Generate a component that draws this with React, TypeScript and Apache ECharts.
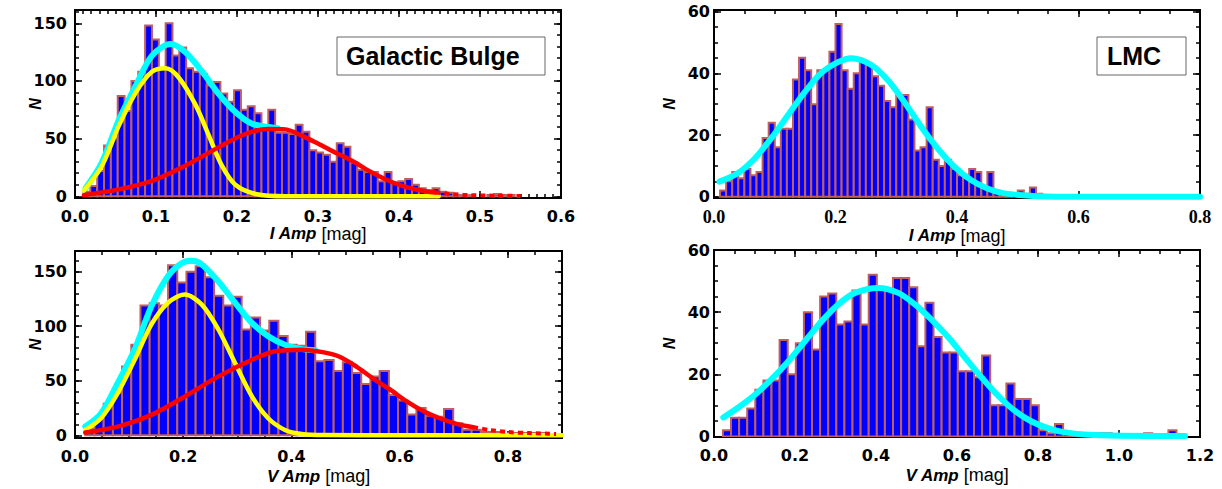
import React, { useEffect, useRef } from "react";
import * as echarts from "echarts";

type Pt = [number, number];

// ---------------- Galactic Bulge, I amplitude ----------------
const bulgeIBinStart = 0.0105;
const bulgeIBinWidth = 0.00845;
const bulgeICounts = [
  4, 9, 22, 44, 50, 87, 74, 100, 108, 148, 136, 111, 150, 122, 129, 111, 108, 106, 96, 99,
  89, 82, 92, 75, 78, 72, 61, 75, 55, 55, 54, 62, 56, 40, 38, 36, 30, 46, 43, 29,
  23, 21, 21, 13, 21, 12, 13, 15, 10, 7, 5, 7, 4, 3, 1, 1, 1, 0, 0, 1, 2, 1, 1,
];
const bulgeICyan: Pt[] = [
  [0.013, 7], [0.033, 29], [0.054, 66], [0.075, 96], [0.095, 122], [0.118, 132], [0.136, 125],
  [0.157, 108], [0.177, 89], [0.198, 73], [0.218, 63], [0.239, 60], [0.25, 59],
];
const bulgeIYellow: Pt[] = [
  [0.011, 5], [0.033, 26], [0.054, 61], [0.075, 90], [0.095, 108], [0.112, 111], [0.128, 103],
  [0.149, 79], [0.165, 53], [0.181, 27], [0.198, 10], [0.223, 2], [0.26, 0], [0.35, 0], [0.449, 0],
];
const bulgeIRed: Pt[] = [
  [0.011, 1], [0.054, 6], [0.095, 13.4], [0.136, 26.5], [0.177, 42.4], [0.21, 54], [0.239, 58.4],
  [0.26, 58], [0.28, 52.6], [0.301, 45.3], [0.321, 38], [0.342, 30.8], [0.363, 22], [0.383, 14.8],
  [0.404, 9], [0.424, 5.5], [0.445, 3.2],
];
const bulgeIRedTail: Pt[] = [[0.445, 3.2], [0.48, 1.2], [0.52, 0.5], [0.55, 0.3]];

// ---------------- LMC, I amplitude ----------------
const lmcIBinStart = 0.01;
const lmcIBinWidth = 0.01;
const lmcICounts = [
  2, 5, 8, 6, 9, 7, 8, 19, 24, 16, 22, 22, 38, 45, 41, 30, 41, 41, 47, 56,
  41, 35, 40, 44, 43, 39, 36, 31, 29, 33, 33, 25, 15, 16, 29, 12, 10, 12, 9, 7,
  6, 9, 8, 3, 8, 2, 1, 1, 0, 2, 1, 3, 1,
];
const lmcICyan: Pt[] = [
  [0.009, 4.9], [0.039, 7.6], [0.067, 12.4], [0.094, 18.9], [0.122, 26.5], [0.149, 33.8],
  [0.176, 40], [0.204, 43.6], [0.226, 44.9], [0.259, 42.7], [0.286, 37.8], [0.313, 30.8],
  [0.341, 22.7], [0.368, 15.7], [0.396, 9.7], [0.423, 5.4], [0.45, 2.7], [0.478, 1.1],
  [0.533, 0.2], [0.6, 0], [0.7, 0], [0.8, 0],
];

// ---------------- Galactic Bulge, V amplitude ----------------
const bulgeVBinStart = 0.019;
const bulgeVBinWidth = 0.017;
const bulgeVCounts = [
  6, 15, 29, 39, 63, 83, 119, 121, 119, 156, 140, 150, 155, 145, 128, 119, 127, 97, 108, 96,
  105, 91, 83, 82, 95, 68, 69, 59, 67, 57, 47, 54, 59, 37, 32, 19, 25, 18, 17, 24,
  11, 5, 5, 3, 3, 1, 2, 2, 2, 2, 0, 1,
];
const bulgeVCyan: Pt[] = [
  [0.019, 8], [0.048, 20], [0.079, 48], [0.11, 78.5], [0.141, 118], [0.172, 146], [0.197, 157.7],
  [0.215, 160], [0.234, 156.7], [0.265, 141], [0.296, 121.5], [0.327, 103], [0.357, 90.8],
  [0.388, 83], [0.419, 79], [0.444, 78],
];
const bulgeVYellow: Pt[] = [
  [0.019, 4.9], [0.048, 15.6], [0.079, 38.7], [0.11, 69], [0.141, 101.5], [0.172, 121.5],
  [0.203, 129], [0.234, 120], [0.265, 97], [0.296, 66], [0.327, 35.6], [0.357, 15.6],
  [0.388, 4.9], [0.419, 1.2], [0.46, 0.2], [0.6, 0], [0.9, 0],
];
const bulgeVRed: Pt[] = [
  [0.019, 2.5], [0.079, 8], [0.141, 18.7], [0.203, 35.6], [0.265, 54], [0.327, 69.3], [0.37, 77],
  [0.419, 78.5], [0.46, 76], [0.489, 72], [0.52, 63], [0.551, 52], [0.582, 42], [0.613, 31],
  [0.644, 22], [0.674, 15.6], [0.705, 10.5], [0.736, 7.4],
];
const bulgeVRedTail: Pt[] = [[0.736, 7.4], [0.767, 4.8], [0.8, 3], [0.84, 2], [0.889, 1.2]];

// ---------------- LMC, V amplitude ----------------
const lmcVBinStart = 0.022;
const lmcVBinWidth = 0.02;
const lmcVCounts = [
  2, 6, 6, 9, 15, 18, 18, 31, 20, 30, 40, 28, 45, 46, 36, 37, 47, 36, 52, 48,
  47, 51, 51, 48, 29, 43, 32, 27, 27, 21, 21, 19, 26, 10, 10, 17, 12, 12, 10, 2,
  1, 4, 1, 1, 0, 0, 1, 1, 0, 0, 0, 0, 1, 0, 0, 2,
];
const lmcVCyan: Pt[] = [
  [0.023, 6.1], [0.06, 9.3], [0.101, 13.4], [0.142, 18.4], [0.184, 24.3], [0.225, 30.7],
  [0.266, 37.1], [0.307, 42.5], [0.348, 46.2], [0.406, 47.8], [0.455, 46.2], [0.496, 42.5],
  [0.537, 37.6], [0.579, 31.8], [0.62, 25.3], [0.661, 18.9], [0.702, 13], [0.743, 8.2],
  [0.784, 4.8], [0.826, 2.6], [0.867, 1.3], [0.924, 0.5], [1.007, 0.2], [1.163, 0.1],
];

// ---------------- tick labels ----------------
const bulgeIXTicks = [0, 0.1, 0.2, 0.3, 0.4, 0.5, 0.6];
const lmcIXTicks = [0, 0.2, 0.4, 0.6, 0.8];
const bulgeVXTicks = [0, 0.2, 0.4, 0.6, 0.8];
const lmcVXTicks = [0, 0.2, 0.4, 0.6, 0.8, 1.0, 1.2];
const bulgeYTicks = [0, 50, 100, 150];
const lmcYTicks = [0, 20, 40, 60];

const range = (a: number, b: number, step: number) => {
  const out: number[] = [];
  for (let i = 0; a + i * step <= b + 1e-9; i++) out.push(Math.round((a + i * step) * 1e6) / 1e6);
  return out;
};

const CYAN = "#00ffff";
const YELLOW = "#ffff00";
const RED = "#ff0000";

const panels = [
  {
    grid: { left: 75, top: 10, width: 486, height: 188 },
    xMax: 0.6, xTicks: bulgeIXTicks, xMinor: 0.01, xDec: 1, xFont: "DejaVu Sans", xFontSize: 16,
    xName: "I Amp", xNameGap: 23,
    yMin: -1.5, yMax: 161.5, yTicks: bulgeYTicks, yMinor: 10, yLabelMargin: 8, yNameGap: 32,
    binStart: bulgeIBinStart, binWidth: bulgeIBinWidth, counts: bulgeICounts,
    curves: [
      { data: bulgeICyan, color: CYAN, width: 6, dash: false },
      { data: bulgeIYellow, color: YELLOW, width: 4.5, dash: false },
      { data: bulgeIRed, color: RED, width: 4.5, dash: false },
      { data: bulgeIRedTail, color: RED, width: 4, dash: true },
    ],
  },
  {
    grid: { left: 714, top: 10, width: 486, height: 188 },
    xMax: 0.8, xTicks: lmcIXTicks, xMinor: 0.05, xDec: 1, xFont: "Liberation Serif", xFontSize: 18,
    xName: "I Amp", xNameGap: 23,
    yMin: -0.4, yMax: 60.5, yTicks: lmcYTicks, yMinor: 5, yLabelMargin: 4, yNameGap: 37,
    binStart: lmcIBinStart, binWidth: lmcIBinWidth, counts: lmcICounts,
    curves: [{ data: lmcICyan, color: CYAN, width: 6, dash: false }],
  },
  {
    grid: { left: 75, top: 251, width: 487, height: 187 },
    xMax: 0.9, xTicks: bulgeVXTicks, xMinor: 0.05, xDec: 1, xFont: "DejaVu Sans", xFontSize: 16,
    xName: "V Amp", xNameGap: 29,
    yMin: -2.5, yMax: 169, yTicks: bulgeYTicks, yMinor: 10, yLabelMargin: 8, yNameGap: 32,
    binStart: bulgeVBinStart, binWidth: bulgeVBinWidth, counts: bulgeVCounts,
    curves: [
      { data: bulgeVCyan, color: CYAN, width: 6, dash: false },
      { data: bulgeVYellow, color: YELLOW, width: 4.5, dash: false },
      { data: bulgeVRed, color: RED, width: 4.5, dash: false },
      { data: bulgeVRedTail, color: RED, width: 4, dash: true },
    ],
  },
  {
    grid: { left: 714, top: 250, width: 486, height: 187 },
    xMax: 1.2, xTicks: lmcVXTicks, xMinor: 0.05, xDec: 1, xFont: "DejaVu Sans", xFontSize: 16,
    xName: "V Amp", xNameGap: 29,
    yMin: -0.2, yMax: 60, yTicks: lmcYTicks, yMinor: 5, yLabelMargin: 4, yNameGap: 37,
    binStart: lmcVBinStart, binWidth: lmcVBinWidth, counts: lmcVCounts,
    curves: [{ data: lmcVCyan, color: CYAN, width: 6, dash: false }],
  },
];

function buildOption() {
  const grids: any[] = [];
  const xAxes: any[] = [];
  const yAxes: any[] = [];
  const series: any[] = [];
  const tickLine = { color: "#000", width: 1.5 };
  const axisLine = { show: true, onZero: false, lineStyle: { color: "#000", width: 2 } };

  panels.forEach((p, gi) => {
    grids.push({ ...p.grid, containLabel: false });
    const xb = { type: "value", gridIndex: gi, min: 0, max: p.xMax, splitLine: { show: false }, axisLine, silent: true };
    const xMinorVals = range(0, p.xMax, p.xMinor);
    const xIndex = xAxes.length;
    xAxes.push({
      ...xb,
      position: "bottom",
      axisTick: { show: true, inside: true, length: 7, customValues: p.xTicks, lineStyle: tickLine },
      axisLabel: {
        show: true, customValues: p.xTicks, margin: 10,
        formatter: (v: number) => v.toFixed(p.xDec),
        fontFamily: p.xFont, fontWeight: "bold", fontSize: p.xFontSize, color: "#000",
      },
      name: `{i|${p.xName}} {m|[mag]}`,
      nameLocation: "middle",
      nameGap: p.xNameGap,
      nameTextStyle: {
        fontFamily: "Liberation Sans", fontSize: 17, color: "#000",
        rich: {
          i: { fontFamily: "Liberation Sans", fontStyle: "italic", fontWeight: "bold", fontSize: 17, color: "#000" },
          m: { fontFamily: "Liberation Sans", fontWeight: "normal", fontSize: 18, color: "#000" },
        },
      },
    });
    xAxes.push({ ...xb, position: "bottom", axisTick: { show: true, inside: true, length: 4, customValues: xMinorVals, lineStyle: tickLine }, axisLabel: { show: false } });
    xAxes.push({ ...xb, position: "top", axisTick: { show: true, inside: true, length: 7, customValues: p.xTicks, lineStyle: tickLine }, axisLabel: { show: false } });
    xAxes.push({ ...xb, position: "top", axisTick: { show: true, inside: true, length: 4, customValues: xMinorVals, lineStyle: tickLine }, axisLabel: { show: false } });

    const yb = { type: "value", gridIndex: gi, min: p.yMin, max: p.yMax, splitLine: { show: false }, axisLine, silent: true };
    const yMinorVals = range(0, p.yMax, p.yMinor);
    const yIndex = yAxes.length;
    yAxes.push({
      ...yb,
      position: "left",
      axisTick: { show: true, inside: true, length: 7, customValues: p.yTicks, lineStyle: tickLine },
      axisLabel: {
        show: true, customValues: p.yTicks, margin: p.yLabelMargin,
        formatter: (v: number) => String(Math.round(v)),
        fontFamily: "DejaVu Sans", fontWeight: "bold", fontSize: 16, color: "#000",
      },
      name: "N",
      nameLocation: "middle",
      nameRotate: 90,
      nameGap: p.yNameGap,
      nameMoveOverlap: false,
      nameTextStyle: { fontFamily: "Liberation Sans", fontStyle: "italic", fontWeight: "bold", fontSize: 16, color: "#000" },
    });
    yAxes.push({ ...yb, position: "left", axisTick: { show: true, inside: true, length: 4, customValues: yMinorVals, lineStyle: tickLine }, axisLabel: { show: false } });
    yAxes.push({ ...yb, position: "right", axisTick: { show: true, inside: true, length: 7, customValues: p.yTicks, lineStyle: tickLine }, axisLabel: { show: false } });
    yAxes.push({ ...yb, position: "right", axisTick: { show: true, inside: true, length: 4, customValues: yMinorVals, lineStyle: tickLine }, axisLabel: { show: false } });

    const bins = p.counts.map((c, i) => [p.binStart + i * p.binWidth, p.binStart + (i + 1) * p.binWidth, c]);
    series.push({
      type: "custom",
      xAxisIndex: xIndex,
      yAxisIndex: yIndex,
      clip: true,
      z: 1,
      silent: true,
      data: bins,
      renderItem: (_params: any, api: any) => {
        const v = api.value(2);
        if (!v) return null;
        const a = api.coord([api.value(0), v]);
        const b = api.coord([api.value(1), 0]);
        return {
          type: "rect",
          shape: { x: a[0], y: a[1], width: b[0] - a[0], height: b[1] - a[1] },
          style: { fill: "#0000ff", stroke: "#bf5f5f", lineWidth: 2 },
        };
      },
    });
    p.curves.forEach((c, ci) => {
      series.push({
        type: "line",
        xAxisIndex: xIndex,
        yAxisIndex: yIndex,
        data: c.data,
        smooth: 0.3,
        showSymbol: false,
        symbol: "none",
        clip: true,
        silent: true,
        z: 2 + ci,
        lineStyle: {
          color: c.color, width: c.width, cap: c.dash ? "butt" : "round", join: "round",
          type: c.dash ? [5, 4] : "solid",
        },
      });
    });
  });

  const labelBox = (x: number, y: number, w: number, h: number, text: string, tx: number) => ({
    type: "group",
    z: 100,
    children: [
      { type: "rect", shape: { x, y, width: w, height: h }, style: { fill: "#fff", stroke: "#666", lineWidth: 1 }, z: 100 },
      {
        type: "text", x: tx, y: y + h / 2, z: 101,
        style: { text, fill: "#000", font: "bold 25px 'Liberation Sans'", textAlign: "left", textVerticalAlign: "middle", verticalAlign: "middle" },
      },
    ],
  });

  return {
    animation: false,
    backgroundColor: "#fff",
    grid: grids,
    xAxis: xAxes,
    yAxis: yAxes,
    series,
    graphic: [labelBox(337, 37, 208, 38, "Galactic Bulge", 346), labelBox(1097, 37, 89, 38, "LMC", 1107)],
  };
}

export default function App() {
  const ref = useRef<HTMLDivElement>(null);
  useEffect(() => {
    if (!ref.current) return;
    const chart = echarts.init(ref.current, undefined, { renderer: "svg" });
    chart.setOption(buildOption() as any);
    return () => chart.dispose();
  }, []);
  return (
    <div
      ref={ref}
      style={{ position: "absolute", left: 0, top: 0, width: 1222, height: 489, background: "#fff" }}
    />
  );
}
